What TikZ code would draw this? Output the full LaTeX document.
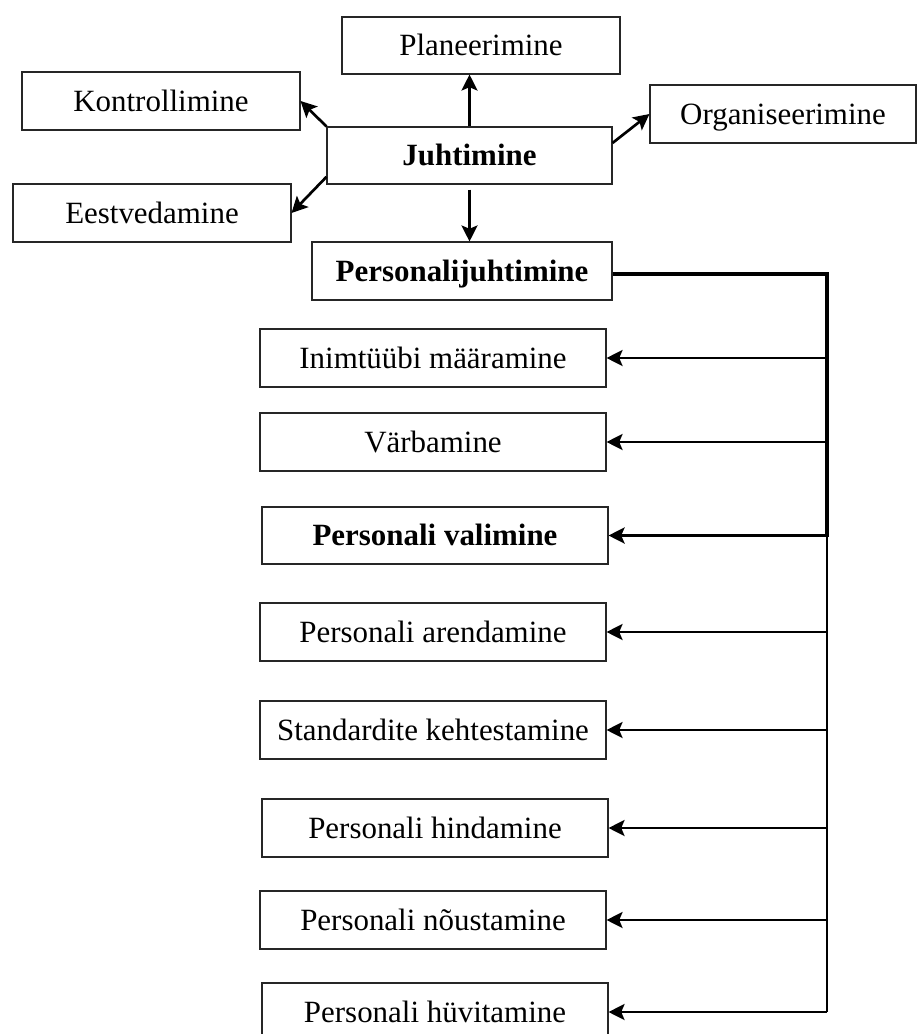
\documentclass[tikz,border=0pt]{standalone}
\usepackage{fontspec}
\setmainfont{Liberation Serif}
\usetikzlibrary{arrows.meta,calc}
\begin{document}
\begin{tikzpicture}[x=0.75pt,y=-0.75pt,
  box/.style={draw=black!85,line width=0.8pt,rectangle,inner sep=0pt,
    minimum height=43.5pt,text height=15.4pt,text depth=0pt,
    font=\fontsize{23.2}{27}\selectfont},
  bbox/.style={box,font=\fontsize{23.2}{27}\selectfont\bfseries},
  wide/.style={minimum width=259.5pt},
  arr/.style={line width=2pt,-{Stealth[length=12pt,width=12pt,inset=2.5pt]}},
  thickarr/.style={line width=2.8pt,-{Stealth[length=12pt,width=12pt,inset=2.5pt]}},
  busthick/.style={line width=2.8pt},
  busthin/.style={line width=1pt}]
\useasboundingbox (0,0) rectangle (917,1034);
\node[box,minimum width=208.5pt,minimum height=42.75pt] (P) at (481,45.5) {Planeerimine};
\node[box,minimum width=208.5pt] (K) at (161,101) {Kontrollimine};
\node[box,minimum width=199.5pt] (O) at (783,114) {Organiseerimine};
\node[bbox,minimum width=213.75pt,minimum height=42.75pt] (J) at (469.5,155.5) {Juhtimine};
\node[box,minimum width=208.5pt] (E) at (152,213) {Eestvedamine};
\node[bbox,minimum width=225pt] (PJ) at (462,271) {Personalijuhtimine};
\node[box,wide] (V1) at (433,358) {Inimtüübi määramine};
\node[box,wide] (V2) at (433,442) {Värbamine};
\node[bbox,wide,minimum height=42.75pt] (V3) at (435,535.5) {Personali valimine};
\node[box,wide] (V4) at (433,632) {Personali arendamine};
\node[box,wide] (V5) at (433,730) {Standardite kehtestamine};
\node[box,wide] (V6) at (435,828) {Personali hindamine};
\node[box,wide] (V7) at (433,920) {Personali nõustamine};
\node[box,wide] (V8) at (435,1012) {Personali hüvitamine};
% Juhtimine arrows
\draw[arr] (J.north) -- (J.north |- P.south);
\draw[arr] (J.north west) -- (K.east);
\draw[arr] ([yshift=9.4pt]J.east) -- (O.west);
\draw[arr] ([yshift=-16pt]J.west) -- (E.east);
\draw[arr,shorten <=3.75pt] (J.south) -- (J.south |- PJ.north);
% bus
\coordinate (bt) at (827,274);
\coordinate (bm) at (bt |- V3.east);
\coordinate (bb) at (bt |- V8.east);
\draw[busthick] (PJ.east |- bt) -- (bt) -- ([yshift=-1.4pt]bm);
\draw[busthin] (bm) -- (bb);
\draw[arr] (bt |- V1.east) -- (V1.east);
\draw[arr] (bt |- V2.east) -- (V2.east);
\draw[thickarr] (bm) -- (V3.east);
\draw[arr] (bt |- V4.east) -- (V4.east);
\draw[arr] (bt |- V5.east) -- (V5.east);
\draw[arr] (bt |- V6.east) -- (V6.east);
\draw[arr] (bt |- V7.east) -- (V7.east);
\draw[arr] (bb) -- (V8.east);
\end{tikzpicture}
\end{document}
